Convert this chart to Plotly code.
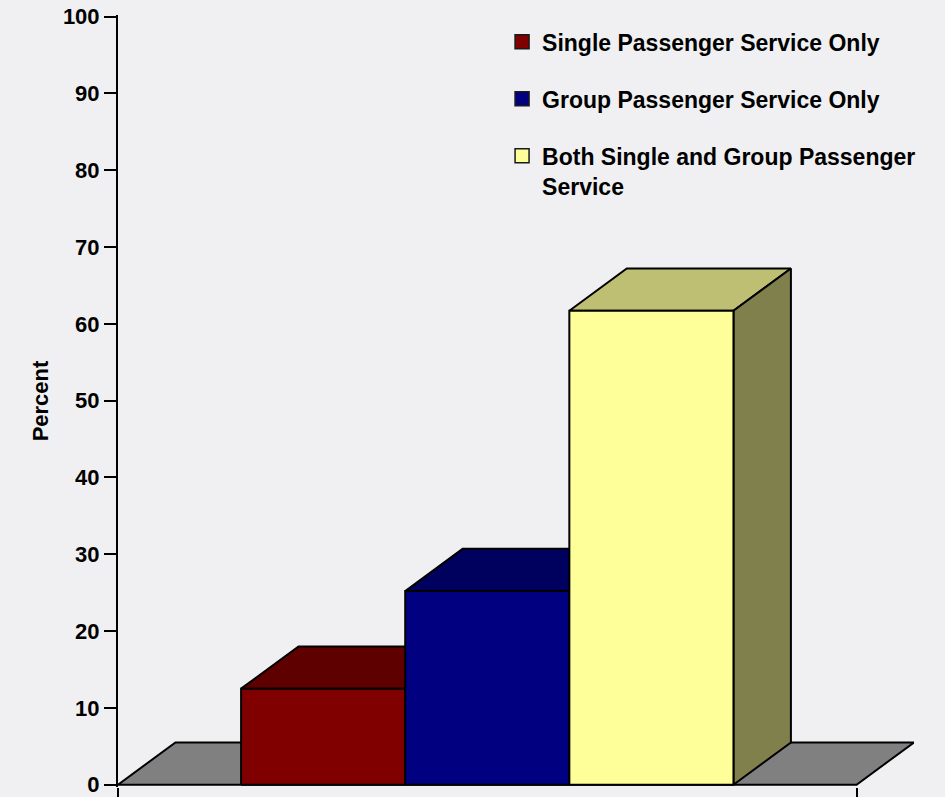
import plotly.graph_objects as go

# Survey shares by service type
categories = [
    "Single Passenger Service Only",
    "Group Passenger Service Only",
    "Both Single and Group Passenger Service",
]
legend_labels = [
    "Single Passenger Service Only",
    "Group Passenger Service Only",
    "Both Single and Group Passenger<br>Service",
]
percent = [12.5, 25.2, 61.7]
y_ticks = [0, 10, 20, 30, 40, 50, 60, 70, 80, 90, 100]

# Face colours: front, top (darker), right side (darkest)
front_colors = ["#800000", "#000080", "#ffff99"]
top_colors = ["#5f0000", "#00005f", "#bfbf73"]
side_colors = ["#400000", "#000040", "#80804c"]
floor_color = "#808080"
bg_color = "#f0f0f2"

# Pseudo-3D geometry in axis units
BAR_W = 1.0
FIRST_X = 0.75
DEPTH_X = 0.35
DEPTH_Y = 5.5
FLOOR_END = 4.5

FONT = "Liberation Sans, Arial, Helvetica, sans-serif"
EDGE = dict(color="black", width=2)


def face(xs, ys, color):
    return go.Scatter(
        x=xs + [xs[0]], y=ys + [ys[0]],
        mode="lines", fill="toself", fillcolor=color,
        line=EDGE, hoverinfo="skip", showlegend=False,
    )


fig = go.Figure()

# floor slab
fig.add_trace(face(
    [0, FLOOR_END, FLOOR_END + DEPTH_X, DEPTH_X],
    [0, 0, DEPTH_Y, DEPTH_Y],
    floor_color,
))

# bars, drawn left to right so each one covers its left neighbour's hidden faces
for i, h in enumerate(percent):
    x0 = FIRST_X + i * BAR_W
    x1 = x0 + BAR_W
    fig.add_trace(face(
        [x0, x1, x1 + DEPTH_X, x0 + DEPTH_X],
        [h, h, h + DEPTH_Y, h + DEPTH_Y],
        top_colors[i],
    ))
    fig.add_trace(face(
        [x1, x1 + DEPTH_X, x1 + DEPTH_X, x1],
        [0, DEPTH_Y, h + DEPTH_Y, h],
        side_colors[i],
    ))
    fig.add_trace(face(
        [x0, x1, x1, x0],
        [0, 0, h, h],
        front_colors[i],
    ))

# legend entries
for i, name in enumerate(legend_labels):
    fig.add_trace(go.Scatter(
        x=[None], y=[None], mode="markers", name=name,
        legendgroup=f"g{i}",
        marker=dict(symbol="square", size=14, color=front_colors[i],
                    line=dict(color="#1a1a1a", width=1.5)),
    ))

fig.update_layout(
    width=945, height=797,
    margin=dict(l=118, r=31, t=15, b=10, pad=0, autoexpand=False),
    paper_bgcolor=bg_color, plot_bgcolor=bg_color,
    font=dict(family=FONT, color="black"),
    showlegend=True,
    legend=dict(
        x=0.4825, y=0.993, xanchor="left", yanchor="top",
        bgcolor="rgba(0,0,0,0)", borderwidth=0,
        font=dict(family=FONT, size=23, color="black", weight="bold"),
        traceorder="grouped", tracegroupgap=24, valign="top",
    ),
    xaxis=dict(
        range=[0, FLOOR_END + DEPTH_X], automargin=False,
        showgrid=False, zeroline=False, showline=False,
        tickvals=[0, FLOOR_END], ticks="outside", ticklen=12,
        tickwidth=2, tickcolor="black", showticklabels=False,
        fixedrange=True,
    ),
    yaxis=dict(
        range=[-0.3, 100.2], automargin=False,
        tickvals=y_ticks, ticks="outside", ticklen=12, tickwidth=2,
        tickcolor="black", showline=True, linewidth=2, linecolor="black",
        showgrid=False, zeroline=False, ticklabeloverflow="allow",
        tickfont=dict(family=FONT, size=22, color="black", weight="bold"),
        title=dict(text="Percent", standoff=8,
                   font=dict(family=FONT, size=22, color="black", weight="bold")),
        fixedrange=True,
    ),
)

fig.write_html("out.html")
